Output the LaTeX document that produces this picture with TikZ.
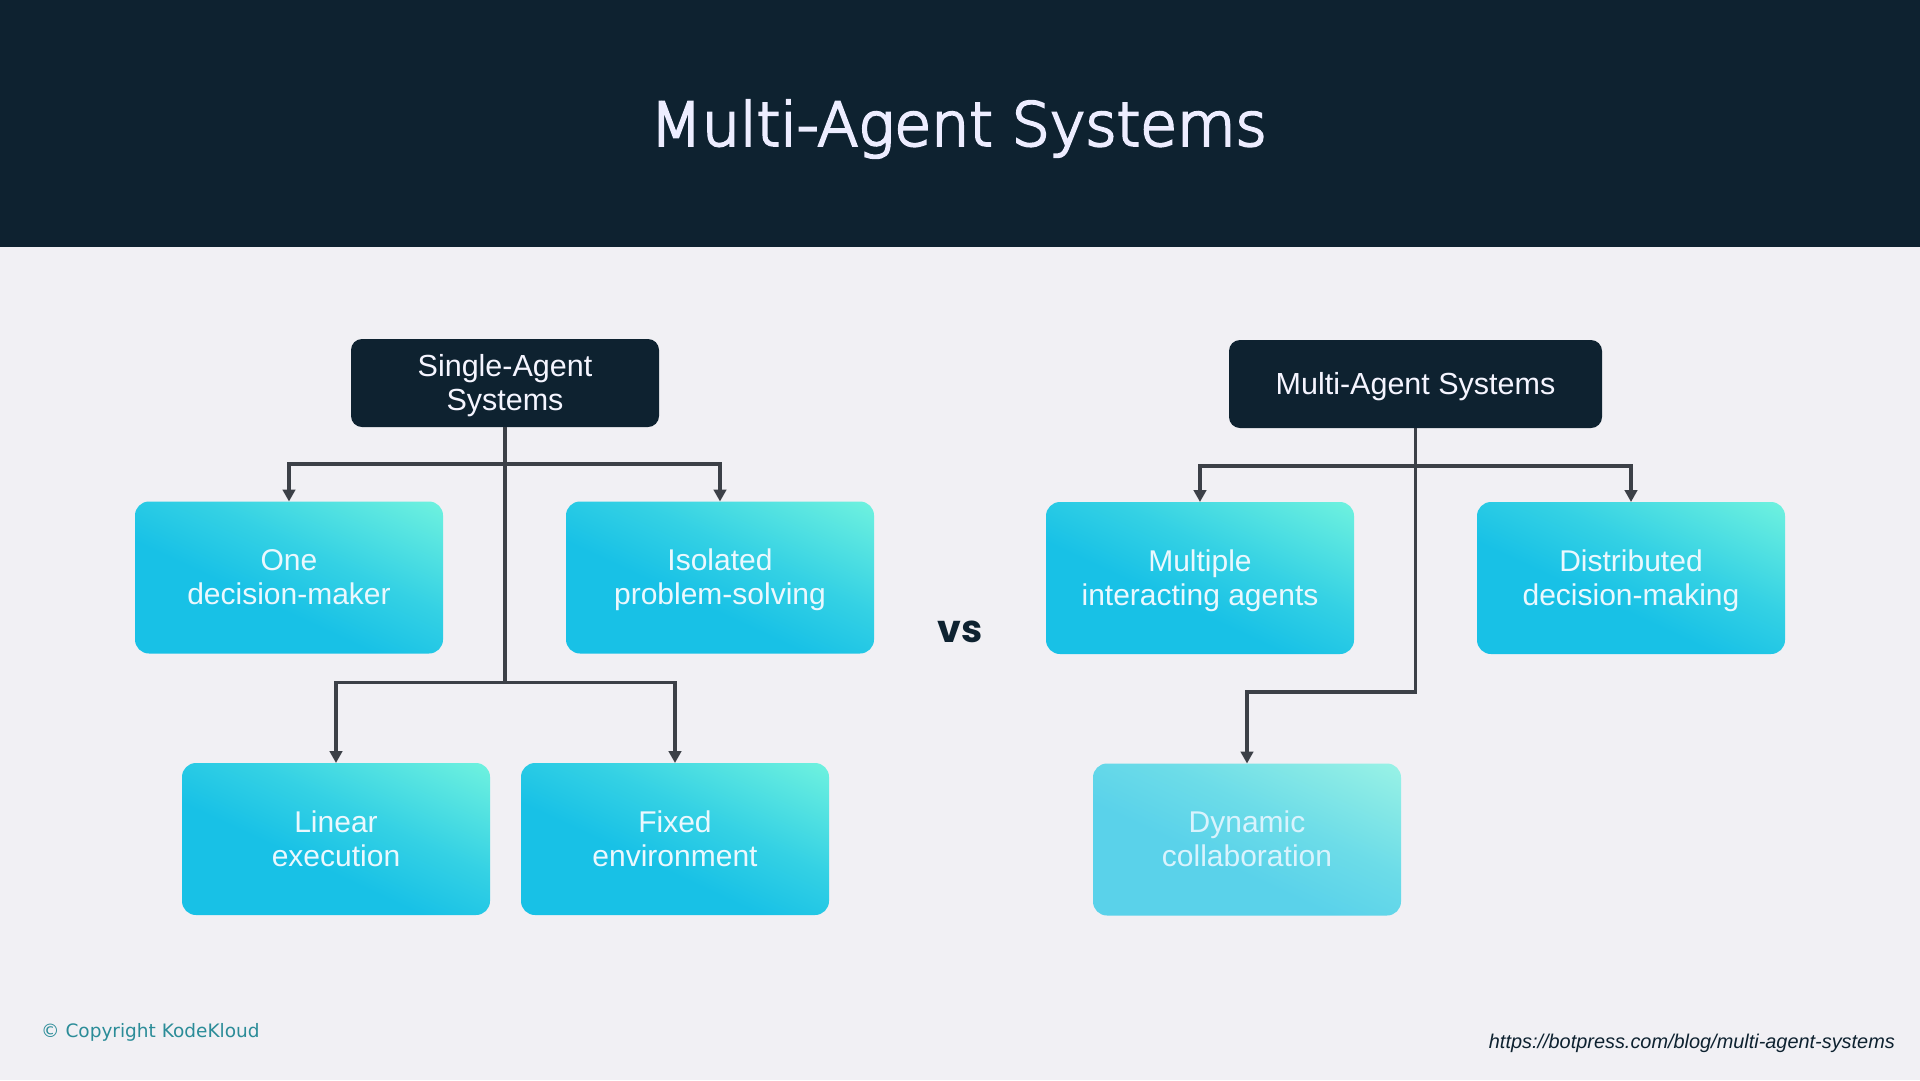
\documentclass[tikz,border=0pt]{standalone}
\usepackage{fontspec}
\usetikzlibrary{arrows.meta}
\setmainfont{Liberation Sans}
\newfontfamily\titlefont[FakeBold=4]{DejaVu Sans ExtraLight}
\newfontfamily\markfont{DejaVu Sans}
\newfontfamily\vsfont{Poppins Bold}
\newfontfamily\urlfont{Liberation Sans Italic}
\definecolor{navy}{HTML}{0E2230}
\definecolor{paper}{HTML}{F1F0F4}
\definecolor{wire}{HTML}{3C4047}
\definecolor{agA}{HTML}{18C1E6}
\definecolor{agB}{HTML}{34D1E4}
\definecolor{agC}{HTML}{55E3E1}
\definecolor{agD}{HTML}{78F7DE}
\definecolor{faA}{HTML}{5AD2EA}
\definecolor{faB}{HTML}{6CDCE8}
\definecolor{faC}{HTML}{85E8E6}
\definecolor{faD}{HTML}{A0F6E6}
\definecolor{marktext}{HTML}{2B8C98}
\pgfdeclareverticalshading{agentfill}{100bp}{color(0bp)=(agA); color(42bp)=(agA); color(58bp)=(agB); color(72bp)=(agC); color(87bp)=(agD); color(100bp)=(agD)}
\pgfdeclareverticalshading{agentfade}{100bp}{color(0bp)=(faA); color(42bp)=(faA); color(58bp)=(faB); color(72bp)=(faC); color(87bp)=(faD); color(100bp)=(faD)}
\newcommand{\linestrut}{\rule[-6.8pt]{0pt}{34pt}}
\newcommand{\pairlines}[2]{\linestrut #1\\#2\linestrut}
\tikzset{
  x=1pt,y=-1pt,
  head/.style={fill=navy,rounded corners=11pt,text=white!96!blue,minimum width=#1,minimum height=88pt,align=center,inner sep=0pt,outer sep=0pt,font=\fontsize{30.5}{34}\selectfont},
  agent/.style={shade,shading=agentfill,shading angle=-25,rounded corners=14pt,text=white!92!cyan,minimum width=308pt,minimum height=152pt,align=center,inner sep=0pt,outer sep=0pt,font=\fontsize{30}{34}\selectfont},
  faded/.style={agent,shading=agentfade,text=white!85!cyan},
  conn/.style={draw=wire,line width=3.4pt,-{Triangle[length=12pt,width=12.5pt]}}
}
\begin{document}
\begin{tikzpicture}
\useasboundingbox (0,0) rectangle (1920,1080);
\fill[paper] (0,0) rectangle (1920,1080);
\fill[navy] (0,0) rectangle (1920,247);
\node[text=white!93!blue,font=\titlefont\fontsize{60}{64}\selectfont] (title) at (958.5,129) {Multi-Agent Systems};
\node[head=308pt] (single) at (505,383) {\pairlines{Single-Agent}{Systems}};
\node[head=373pt] (multi) at (1415.5,384) {\linestrut Multi-Agent Systems};
\node[agent] (one) at (289,577.5) {\pairlines{One}{decision-maker}};
\node[agent] (isolated) at (720,577.5) {\pairlines{Isolated}{problem-solving}};
\node[agent] (linear) at (336,839) {\pairlines{Linear}{execution}};
\node[agent] (fixed) at (675,839) {\pairlines{Fixed}{environment}};
\node[agent] (multiple) at (1200,578) {\pairlines{Multiple}{interacting agents}};
\node[agent] (distributed) at (1631,578) {\pairlines{Distributed}{decision-making}};
\node[faded] (dynamic) at (1247,839.5) {\pairlines{Dynamic}{collaboration}};
\node[text=navy,font=\vsfont\fontsize{38}{40}\selectfont] (vs) at (960,632) {vs};
\node[text=marktext,anchor=west,inner sep=0pt,font=\markfont\fontsize{18.5}{22}\selectfont] (copy) at (41,1032) {© Copyright KodeKloud};
\node[text=navy,anchor=east,inner sep=0pt,font=\urlfont\fontsize{19.9}{22}\selectfont] (url) at (1895,1043) {https://botpress.com/blog/multi-agent-systems};
\draw[conn] (single.south) -- ++(0,37) -| (one.north);
\draw[conn] (single.south) -- ++(0,37) -| (isolated.north);
\draw[conn] (single.south) -- ++(0,255.5) -| (linear.north);
\draw[conn] (single.south) -- ++(0,255.5) -| (fixed.north);
\draw[conn] (multi.south) -- ++(0,38) -| (multiple.north);
\draw[conn] (multi.south) -- ++(0,38) -| (distributed.north);
\draw[conn] (multi.south) -- ++(0,264) -| (dynamic.north);
\end{tikzpicture}
\end{document}
